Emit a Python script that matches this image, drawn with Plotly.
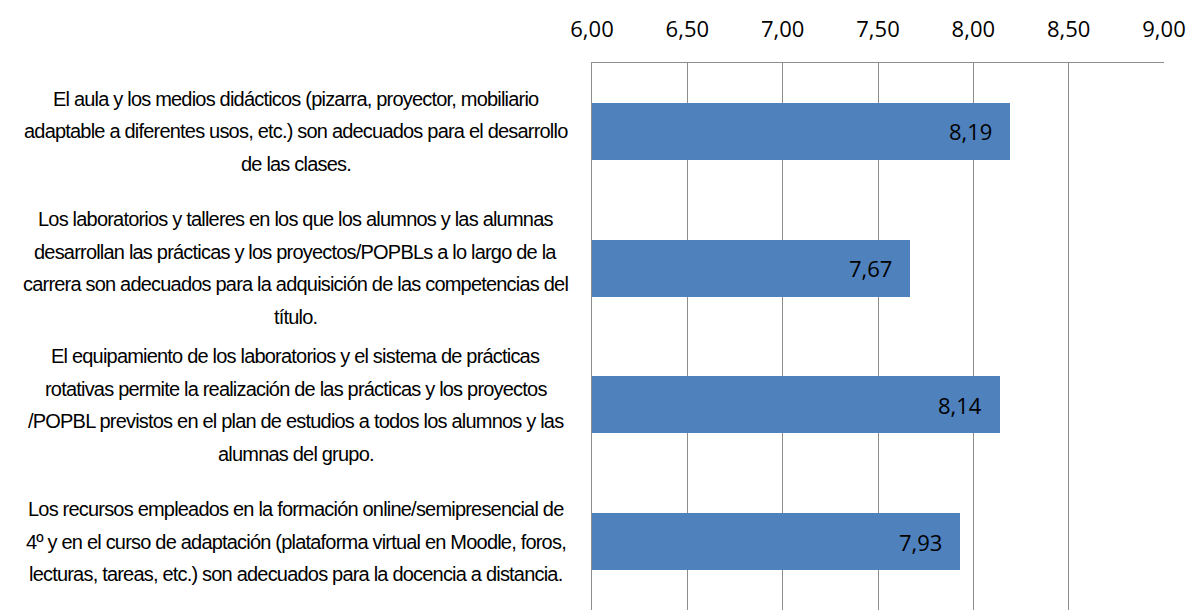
import plotly.graph_objects as go

# Survey items (one list of lines per item) and their mean scores
items = [
    ["El aula y los medios didácticos (pizarra, proyector, mobiliario",
     "adaptable a diferentes usos, etc.) son adecuados para el desarrollo",
     "de las clases."],
    ["Los laboratorios y talleres en los que los alumnos y las alumnas",
     "desarrollan las prácticas y los proyectos/POPBLs a lo largo de la",
     "carrera son adecuados para la adquisición de las competencias del",
     "título."],
    ["El equipamiento de los laboratorios y el sistema de prácticas",
     "rotativas permite la realización de las prácticas y los proyectos",
     "/POPBL previstos en el plan de estudios a todos los alumnos y las",
     "alumnas del grupo."],
    ["Los recursos empleados en la formación online/semipresencial de",
     "4º y en el curso de adaptación (plataforma virtual en Moodle, foros,",
     "lecturas, tareas, etc.) son adecuados para la docencia a distancia."],
]
scores = [8.19, 7.67, 8.14, 7.93]
tick_values = [6.0, 6.5, 7.0, 7.5, 8.0, 8.5, 9.0]

categories = [" ".join(lines) for lines in items]

BAR = "#4F81BD"
GRID = "#8C8C8C"
LABEL_FONT = "Liberation Sans, Arial, sans-serif"
NUM_FONT = "Open Sans, Liberation Sans, sans-serif"

fig = go.Figure()
fig.add_trace(go.Bar(
    x=scores,
    y=categories,
    orientation="h",
    width=0.417,
    marker=dict(color=BAR, line=dict(width=0)),
    hoverinfo="skip",
))

annotations = []
# Value labels, right-aligned just inside the end of each bar
for cat, v in zip(categories, scores):
    annotations.append(dict(
        x=v, y=cat, xref="x", yref="y",
        text=f"{v:.2f}".replace(".", ","),
        showarrow=False, xanchor="right", yanchor="middle",
        xshift=-16, font=dict(family=NUM_FONT, size=22, color="#000000"),
    ))

# Multi-line category captions, centred to the left of the plot,
# set tight with negative letter spacing
LINE_H = 32.5
for cat, lines in zip(categories, items):
    n = len(lines)
    for i, line in enumerate(lines):
        annotations.append(dict(
            x=-0.518, y=cat, xref="paper", yref="y",
            text=f'<span style="letter-spacing:-0.8px">{line}</span>',
            showarrow=False,
            xanchor="center", yanchor="middle",
            yshift=-(i - (n - 1) / 2) * LINE_H,
            font=dict(family=LABEL_FONT, size=20, color="#000000"),
        ))

fig.update_layout(
    width=1192, height=610,
    margin=dict(l=592, r=28, t=63, b=0, pad=0),
    paper_bgcolor="white", plot_bgcolor="white",
    separators=", ",
    showlegend=False,
    bargap=0,
    annotations=annotations,
    xaxis=dict(
        side="top", range=[6, 9],
        tickvals=tick_values, tickformat=".2f",
        showgrid=True, gridcolor=GRID, gridwidth=1,
        showline=True, linecolor=GRID, linewidth=1, mirror=False,
        ticks="", ticklabelstandoff=16,
        tickfont=dict(family=NUM_FONT, size=22, color="#000000"),
        zeroline=False, fixedrange=True,
    ),
    yaxis=dict(
        categoryorder="array", categoryarray=categories,
        range=[3.5, -0.5],
        showticklabels=False, ticks="",
        showgrid=False, zeroline=False,
        showline=True, linecolor=GRID, linewidth=1,
        fixedrange=True,
    ),
)

fig.write_html("out.html")
